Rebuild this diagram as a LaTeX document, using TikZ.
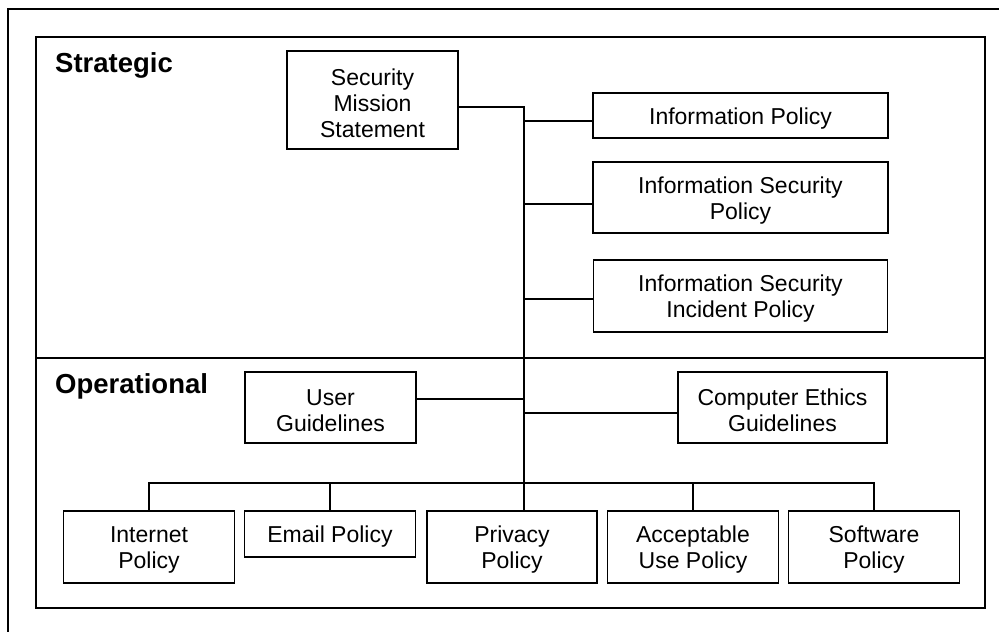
\documentclass[tikz,border=0pt]{standalone}
\usepackage{fontspec}
\setmainfont{Liberation Sans}
\newcommand{\tstrut}{\rule{0pt}{22.5pt}}
\begin{document}
\begin{tikzpicture}[x=1pt,y=-1pt,
  box/.style={draw,line width=1.8pt,align=center,inner sep=0pt,
    font=\fontsize{23}{26}\selectfont},
  conn/.style={line width=1.3pt},
  frame/.style={line width=1.5pt},
  lbl/.style={anchor=base west,inner sep=0pt,font=\fontsize{27.5}{30}\selectfont\bfseries}]
\useasboundingbox (0,0) rectangle (999,632);
% outer frame (clipped on right and bottom)
\draw[frame] (8,640) -- (8,9) -- (1005,9);
% inner panel
\draw[frame] (36,37) rectangle (985,608);
\draw[frame] (36,358) -- (985,358);
\node[lbl] (strat) at (55,72) {Strategic};
\node[lbl] (oper) at (55,393) {Operational};
% nodes
\node[box,minimum width=171pt,minimum height=98pt] (sms) at (372.5,100) {\tstrut Security\\Mission\\Statement};
\node[box,minimum width=295pt,minimum height=45pt] (ip) at (740.5,115.5) {\tstrut Information Policy};
\node[box,minimum width=295pt,minimum height=71pt] (isp) at (740.5,197.5) {\tstrut Information Security\\Policy};
\node[box,minimum width=294pt,minimum height=72pt] (isip) at (740.5,296) {\tstrut Information Security\\Incident Policy};
\node[box,minimum width=171pt,minimum height=71pt] (ug) at (330.5,407.5) {\tstrut User\\Guidelines};
\node[box,minimum width=209pt,minimum height=71pt] (ceg) at (782.5,407.5) {\tstrut Computer Ethics\\Guidelines};
\node[box,minimum width=171pt,minimum height=72pt] (inet) at (149,547) {\tstrut Internet\\Policy};
\node[box,minimum width=171pt,minimum height=46pt] (email) at (330,534) {\tstrut Email Policy};
\node[box,minimum width=170pt,minimum height=72pt] (priv) at (512,547) {\tstrut Privacy\\Policy};
\node[box,minimum width=171pt,minimum height=72pt] (aup) at (693,547) {\tstrut Acceptable\\Use Policy};
\node[box,minimum width=171pt,minimum height=72pt] (soft) at (874,547) {\tstrut Software\\Policy};
% trunk coordinates
\coordinate (t0) at (524,107);
\coordinate (c1) at (524,121);
\coordinate (c2) at (524,204);
\coordinate (c3) at (524,299);
\coordinate (c4) at (524,399);
\coordinate (c5) at (524,413);
\coordinate (t1) at (524,483);
% connectors
\draw[conn] (sms.east |- t0) -- (t0) -- (t0 |- priv.north);
\draw[conn] (c1) -- (c1 -| ip.west);
\draw[conn] (c2) -- (c2 -| isp.west);
\draw[conn] (c3) -- (c3 -| isip.west);
\draw[conn] (ug.east |- c4) -- (c4);
\draw[conn] (c5) -- (c5 -| ceg.west);
\draw[conn] (inet.north) -- (inet.north |- t1) -- (soft.north |- t1) -- (soft.north);
\draw[conn] (email.north) -- (email.north |- t1);
\draw[conn] (aup.north) -- (aup.north |- t1);
\end{tikzpicture}
\end{document}
